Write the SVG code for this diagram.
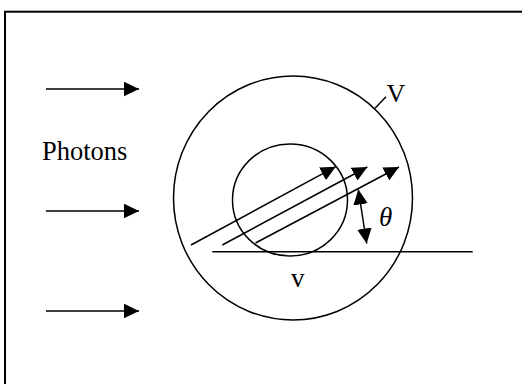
<svg xmlns="http://www.w3.org/2000/svg" width="522" height="384" viewBox="0 0 522 384">
<style>
.ln{stroke:#000;stroke-width:1.5;fill:none}
.lbl{font-family:"Liberation Serif","Times New Roman",serif;fill:#000}
</style>
<defs>
<marker id="ah" markerUnits="userSpaceOnUse" markerWidth="16" markerHeight="15" refX="15" refY="7.3" orient="auto-start-reverse">
<path d="M0,0 L15,7.3 L0,14.6 z" fill="#000"/>
</marker>
</defs>
<rect width="522" height="384" fill="#fff"/>
<g id="frame"><rect x="5" y="11.7" width="530" height="400" fill="none" stroke="#000" stroke-width="2"/></g>
<g id="outer-sphere">
<ellipse class="ln" cx="293" cy="198" rx="119.5" ry="122"/>
<line class="ln" x1="375" y1="108.3" x2="386" y2="96.7"/>
<text class="lbl" x="386.5" y="101.5" font-size="26">V</text>
</g>
<g id="inner-sphere">
<ellipse class="ln" cx="290" cy="200" rx="57.5" ry="56"/>
<text class="lbl" x="291" y="286.5" font-size="27">v</text>
</g>
<g id="photons-label"><text class="lbl" x="42" y="160" font-size="26.5">Photons</text></g>
<g id="baseline"><line class="ln" x1="212.3" y1="251.7" x2="472.7" y2="251.7"/></g>
<g id="angle-label"><text class="lbl" x="379" y="226" font-size="27" font-style="italic">θ</text></g>
<g id="connectors">
<line class="ln" x1="46" y1="89" x2="139" y2="89" marker-end="url(#ah)"/>
<line class="ln" x1="46" y1="211" x2="139" y2="211" marker-end="url(#ah)"/>
<line class="ln" x1="46" y1="311" x2="139" y2="311" marker-end="url(#ah)"/>
<line class="ln" x1="191" y1="245" x2="335.7" y2="166.7" marker-end="url(#ah)"/>
<line class="ln" x1="222.3" y1="245" x2="367.3" y2="167" marker-end="url(#ah)"/>
<line class="ln" x1="255.5" y1="243" x2="399" y2="167" marker-end="url(#ah)"/>
<line class="ln" x1="358.3" y1="189.5" x2="366.7" y2="243.5" marker-start="url(#ah)" marker-end="url(#ah)"/>
</g>
</svg>
